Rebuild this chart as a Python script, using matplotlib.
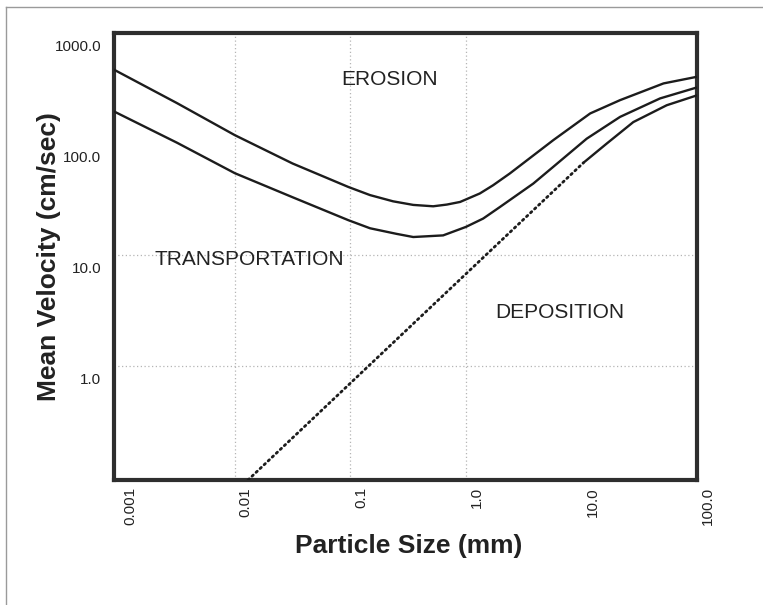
import numpy as np
import matplotlib
matplotlib.use("Agg")
import matplotlib.pyplot as plt
from matplotlib.transforms import ScaledTranslation
from matplotlib.lines import Line2D

plt.rcParams['font.family'] = ['Liberation Sans', 'DejaVu Sans']

# curves (particle size mm, mean velocity cm/s)
upper_size = [0.0009, 0.00316, 0.01, 0.0316, 0.096, 0.148, 0.234, 0.35, 0.521, 0.684,
              0.891, 1.32, 1.72, 2.40, 5.70, 11.9, 21.6, 51.3, 100.0]
upper_vel = [468, 234, 120.5, 67, 41.2, 34.8, 30.6, 28.4, 27.6, 28.6,
             30.2, 36.0, 42.7, 54.5, 108.6, 189, 249, 352, 404]

middle_size = [0.0009, 0.00316, 0.01, 0.0316, 0.096, 0.148, 0.25, 0.35, 0.635, 1.0,
               1.41, 1.97, 3.83, 5.70, 11.1, 21.6, 47.9, 100.0]
middle_vel = [197, 103, 54.8, 33.3, 20.7, 17.5, 15.6, 14.6, 15.1, 18.0,
              21.4, 27.2, 44.2, 62.5, 112, 176, 258, 324]

lower_size = [10.4, 16.5, 28.1, 54.7, 100.0]
lower_vel = [68, 101, 158, 224, 275]

settle_size = [0.013, 10.4]
settle_vel = [0.095, 68]

x_ticks = [0.001, 0.01, 0.1, 1.0, 10.0, 100.0]
x_ticklabels = ["0.001", "0.01", "0.1", "1.0", "10.0", "100.0"]
y_ticks = [1.0, 10.0, 100.0, 1000.0]
y_ticklabels = ["1.0", "10.0", "100.0", "1000.0"]
grid_x = [0.01, 0.1, 1.0]
grid_y = [1.0, 10.0]

regions = ["EROSION", "TRANSPORTATION", "DEPOSITION"]

fig = plt.figure(figsize=(7.63, 6.05), dpi=100)
ax = fig.add_axes([0.1494, 0.2066, 0.7641, 0.7388])

# figure frame (left and top edge only)
fig.add_artist(Line2D([0.008, 0.008], [0.0, 0.989], color="#9a9a9a", lw=1.0))
fig.add_artist(Line2D([0.008, 1.0], [0.989, 0.989], color="#9a9a9a", lw=1.0))

for gx in grid_x:
    ax.axvline(gx, color="#b5b5b5", lw=0.9, ls=(0, (1, 2)), zorder=1)
for gy in grid_y:
    ax.axhline(gy, color="#b5b5b5", lw=0.9, ls=(0, (1, 2)), zorder=1)

line_col = "#1c1c1c"
ax.plot(upper_size, upper_vel, color=line_col, lw=1.7, zorder=3)
ax.plot(middle_size, middle_vel, color=line_col, lw=1.7, zorder=3)
ax.plot(lower_size, lower_vel, color=line_col, lw=1.7, zorder=3)
ax.plot(settle_size, settle_vel, color=line_col, lw=2.0,
        ls=(0, (0.6, 1.4)), dash_capstyle="round", zorder=3)

ax.set_xscale("log")
ax.set_yscale("log")
ax.set_xlim(0.0009, 100)
ax.set_ylim(0.095, 1000)
ax.minorticks_off()
ax.set_xticks(x_ticks)
ax.set_xticklabels(x_ticklabels, rotation=90, fontsize=11, color="#222222")
ax.set_yticks(y_ticks)
ax.set_yticklabels(y_ticklabels, fontsize=11, color="#222222")
ax.tick_params(length=0)
ax.tick_params(axis="x", pad=5)
ax.tick_params(axis="y", pad=9)

# labels in the original sit a little off their tick positions
for lab in ax.get_xticklabels():
    lab.set_transform(lab.get_transform() + ScaledTranslation(0.11, 0, fig.dpi_scale_trans))
for lab in ax.get_yticklabels():
    lab.set_transform(lab.get_transform() + ScaledTranslation(0, -0.12, fig.dpi_scale_trans))

for side in ["left", "right", "top", "bottom"]:
    ax.spines[side].set_linewidth(3)
    ax.spines[side].set_color("#2e2e2e")
    ax.spines[side].set_capstyle("projecting")

ax.set_ylabel("Mean Velocity (cm/sec)", fontsize=19, fontweight="bold", color="#222222")
ax.yaxis.set_label_coords(-0.091, 0.5)
ax.set_xlabel("Particle Size (mm)", fontsize=19, fontweight="bold", color="#222222")
ax.xaxis.set_label_coords(0.505, -0.121)
ax.xaxis.label.set_va("top")

ax.text(0.472, 0.897, regions[0], transform=ax.transAxes, fontsize=15,
        ha="center", va="center", color="#222222")
ax.text(0.2316, 0.494, regions[1], transform=ax.transAxes, fontsize=15,
        ha="center", va="center", color="#222222")
ax.text(0.765, 0.375, regions[2], transform=ax.transAxes, fontsize=15,
        ha="center", va="center", color="#222222")

fig.savefig("out.png", dpi=100)
